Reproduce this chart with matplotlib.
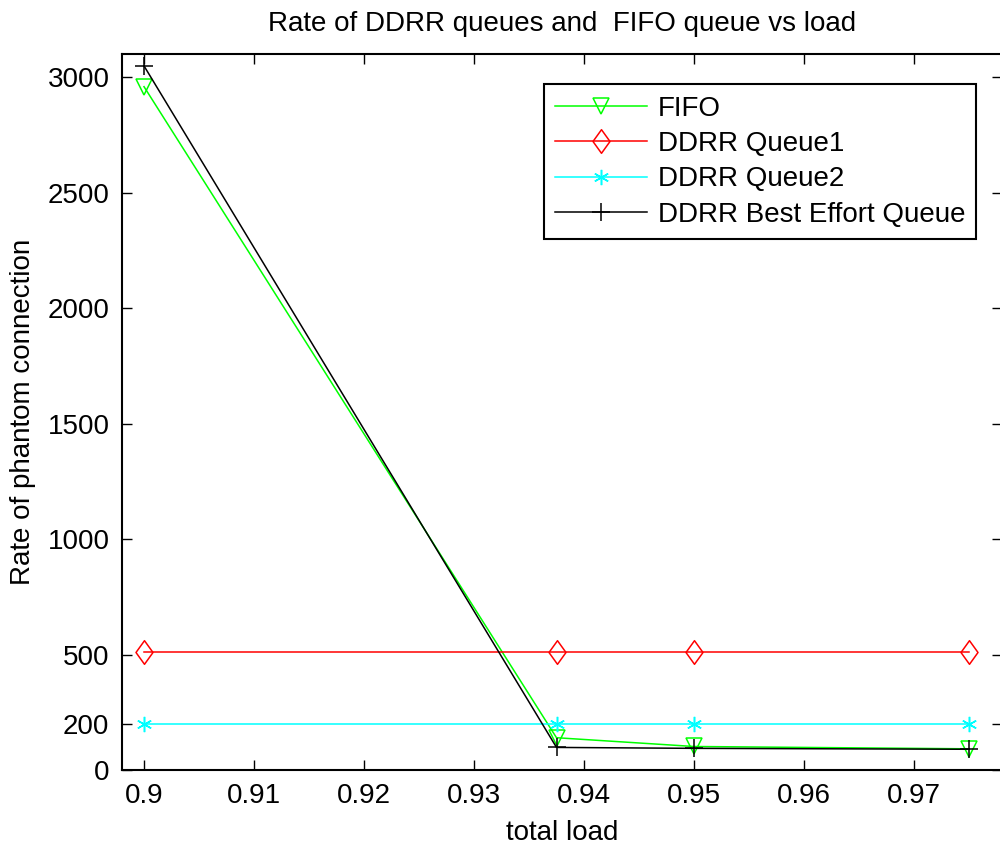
import matplotlib
matplotlib.use('Agg')
import matplotlib.pyplot as plt
from matplotlib.path import Path

# data
load = [0.9, 0.9375, 0.95, 0.975]
fifo = [2960, 140, 102, 92]
queue1 = [510, 510, 510, 510]
queue2 = [200, 200, 200, 200]
best_effort = [3050, 98, 94, 90]

yticks = [0, 200, 500, 1000, 1500, 2000, 2500, 3000]
xticks = [0.9, 0.91, 0.92, 0.93, 0.94, 0.95, 0.96, 0.97]

plt.rcParams['font.family'] = ['Liberation Sans', 'DejaVu Sans']
plt.rcParams['font.size'] = 20

# matlab style diamond, a bit taller than wide
diamond = Path([(0, 1), (0.72, 0), (0, -1), (-0.72, 0), (0, 1)],
               [Path.MOVETO, Path.LINETO, Path.LINETO, Path.LINETO, Path.CLOSEPOLY])

fig = plt.figure(figsize=(10, 8.49), dpi=100)
ax = fig.add_axes([0.122, 0.093, 0.880, 0.843])

ax.plot(load, fifo, color=(0, 1, 0), lw=1.1, marker='v', ms=12,
        mfc='none', mec=(0, 1, 0), mew=1.1, label='FIFO')
ax.plot(load, queue1, color='red', lw=1.1, marker=diamond, ms=17,
        mfc='none', mec='red', mew=1.1, label='DDRR Queue1')
ax.plot(load, queue2, color=(0, 1, 1), lw=1.1, marker=(6, 2, 0), ms=11,
        mec=(0, 1, 1), mew=1.1, label='DDRR Queue2')
ax.plot(load, best_effort, color='black', lw=1.1, marker='+', ms=13,
        mew=1.1, label='DDRR Best Effort Queue')

ax.set_xlim(0.898, 0.978)
ax.set_ylim(0, 3100)
ax.set_xticks(xticks)
ax.set_xticklabels([f'{t:g}' for t in xticks])
ax.set_yticks(yticks)
ax.tick_params(direction='in', top=True, right=True, length=7, width=1, pad=9)
for s in ax.spines.values():
    s.set_linewidth(1.5)

ax.set_xlabel('total load', labelpad=8)
ax.set_ylabel('Rate of phantom connection', labelpad=8)
ax.set_title('Rate of DDRR queues and  FIFO queue vs load', fontsize=20, pad=17)

leg = ax.legend(loc='upper right', bbox_to_anchor=(0.971, 0.958), fancybox=False,
                edgecolor='black', framealpha=1, borderpad=0.4, labelspacing=0.34,
                handlelength=3.3, handletextpad=0.4, borderaxespad=0)
leg.get_frame().set_linewidth(1.5)

fig.savefig('out.png', dpi=100)
